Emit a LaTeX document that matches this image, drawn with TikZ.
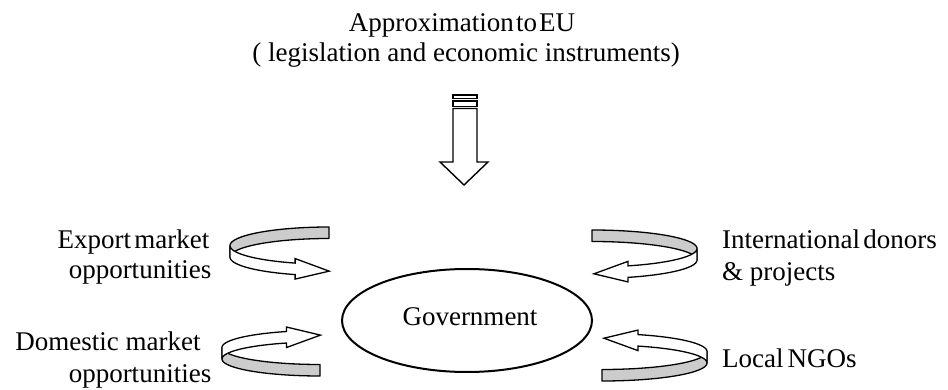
\documentclass[tikz,border=0pt]{standalone}
\usepackage{fontspec}
\setmainfont{Liberation Serif}
\usetikzlibrary{calc,shapes.geometric}

% shared sizes of the looped ribbon arrows
\def\lpth{250}   % parameter where the arrow head starts
\def\lphh{11.5}  % ribbon width
\def\lpbarb{4.5} % barb overhang
\def\lplen{34}   % head length

\tikzset{
  lbl/.style={inner sep=0pt, font=\fontsize{27}{31}\selectfont},
  bandback/.style={draw=black, fill=black!20, line width=1.3pt, line join=round},
  bandfront/.style={draw=black, fill=white, line width=1.3pt, line join=miter},
  blockarrow/.style={draw=black, fill=white, line width=1.4pt, line join=miter},
  govshape/.style={draw=black, line width=2pt, ellipse, inner sep=0pt, minimum width=250pt, minimum height=103pt},
  every plot/.style={samples=40}
}

% #1 tip name, #2 cx, #3 cy, #4 rx, #5 ry, #6 horizontal sense, #7 vertical sense
\newcommand\ribbonloop[7]{%
  \pgfmathsetmacro\lpxh{#2+#6*#4*cos(\lpth)}%
  \pgfmathsetmacro\lpyone{#3-#7*#5*sin(\lpth)}%
  \pgfmathsetmacro\lpytwo{\lpyone+#7*\lphh}%
  \pgfmathsetmacro\lpbone{\lpyone-#7*\lpbarb}%
  \pgfmathsetmacro\lpbtwo{\lpytwo+#7*\lpbarb}%
  \pgfmathsetmacro\lpxt{\lpxh+#6*\lplen}%
  \pgfmathsetmacro\lpyt{(\lpyone+\lpytwo)/2+#7*0.364*#5/#4*\lplen}%
  % far half of the loop, its inner face showing
  \path[bandback]
    plot[domain=90:180] ({#2+#6*#4*cos(\x)},{#3-#7*#5*sin(\x)})
    -- plot[domain=180:90] ({#2+#6*#4*cos(\x)},{#3-#7*#5*sin(\x)+#7*\lphh})
    -- cycle;
  % near half of the loop, ending in the head
  \path[bandfront]
    plot[domain=180:\lpth] ({#2+#6*#4*cos(\x)},{#3-#7*#5*sin(\x)})
    -- (\lpxh,\lpbone) -- (\lpxt,\lpyt) coordinate (#1) -- (\lpxh,\lpbtwo)
    -- plot[domain=\lpth:180] ({#2+#6*#4*cos(\x)},{#3-#7*#5*sin(\x)+#7*\lphh})
    -- cycle;
}

\begin{document}
\begin{tikzpicture}[x=1pt,y=-1pt]
\useasboundingbox (0,0) rectangle (948,390);

% heading
\node[lbl, anchor=base] (eu1) at (462,32) {Approximation\hspace{0.08em}to\hspace{0.08em}EU};
\node[lbl, anchor=base] (eu2) at (466,62) {( legislation and economic instruments)};

% striped block arrow pointing down
\path[blockarrow] (453,95) rectangle (477,98.5);
\path[blockarrow] (453,101) rectangle (477,106.5);
\path[blockarrow] (453,108.5) -- (477,108.5) -- (477,162) -- (488,162)
  -- (464,185) coordinate (downtip) -- (440,162) -- (453,162) -- cycle;

% centre
\node[govshape] (gov) at (467,320.5) {};
\node[lbl, anchor=base] (govtext) at (470,325) {Government};

% side influences
\node[lbl, anchor=base] (exp1) at (133.5,248) {Export\hspace{0.12em}market};
\node[lbl, anchor=base] (exp2) at (140,278) {opportunities};
\node[lbl, anchor=base] (dom1) at (108,350) {Domestic market};
\node[lbl, anchor=base] (dom2) at (140,382) {opportunities};
\node[lbl, anchor=base west] (int1) at (722,248) {International\hspace{0.12em}donors};
\node[lbl, anchor=base west] (int2) at (722,280) {\& projects};
\node[lbl, anchor=base west] (ngo) at (722,367) {Local\hspace{0.15em}NGOs};

% looped arrows
\ribbonloop{exptip}{329}{245.6}{99}{18.6}{1}{1}
\ribbonloop{domtip}{320}{359}{98}{17}{1}{-1}
\ribbonloop{inttip}{592}{248.5}{105}{18.5}{-1}{1}
\ribbonloop{ngotip}{602}{363}{105}{18}{-1}{-1}
\end{tikzpicture}
\end{document}
